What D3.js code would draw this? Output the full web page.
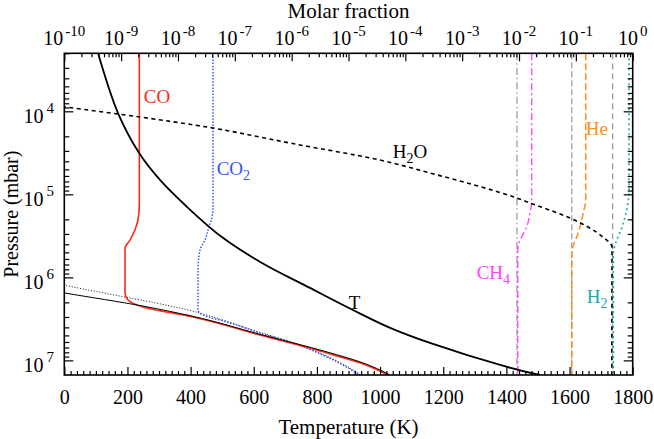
<!DOCTYPE html>
<html><head><meta charset="utf-8">
<script src="https://cdn.jsdelivr.net/npm/d3@7"></script>
<style>
body{margin:0;background:#fff}
text{font-family:"Liberation Serif","Times New Roman",serif;fill:#000}
</style>
</head><body>
<svg id="c" width="654" height="439"></svg>
<script>
// ---------------- data ----------------
const tempTicks = [0,200,400,600,800,1000,1200,1400,1600,1800];
const fracExps  = [-10,-9,-8,-7,-6,-5,-4,-3,-2,-1,0];
const presExps  = [4,5,6,7];

// Temperature profile (K vs mbar)
const tempK = [107,170,237,303,389,499,626,778,914,1032,1158,1402,1506];
const tempP = [2.0e3,1.05e4,3.18e4,6.71e4,1.42e5,3.27e5,6.71e5,1.34e6,2.47e6,4.06e6,6.17e6,1.20e7,1.5e7];

// Molar fractions
const coX  = [2.09e-9,2.09e-9,2.06e-9,1.75e-9,1.43e-9,1.17e-9,1.17e-9,1.32e-9,2.43e-9,1.84e-8,2.77e-7,4.18e-6,1.59e-5,4.94e-5];
const coP  = [2.0e3,1.17e5,1.67e5,2.69e5,3.55e5,4.43e5,1.54e6,1.87e6,2.27e6,3.00e6,4.94e6,8.15e6,1.07e7,1.5e7];
const coEqX = [5e-11,1e-10,2.43e-9,1.84e-8,2.77e-7,4.3e-6,1.65e-5,5.2e-5];
const coEqP = [1.42e6,1.54e6,2.22e6,2.95e6,4.85e6,7.95e6,1.05e7,1.48e7];

const co2X = [4.13e-8,4.13e-8,3.97e-8,3.38e-8,2.99e-8,2.44e-8,2.25e-8,2.25e-8,2.75e-8,7.29e-8,2.77e-7,1.06e-6,4.18e-6,1.59e-5];
const co2P = [2.0e3,1.42e5,1.87e5,2.69e5,3.55e5,4.68e5,8.15e5,2.47e6,2.84e6,3.45e6,4.68e6,6.18e6,9.1e6,1.5e7];
const co2EqX = [5e-11,1e-10,2.44e-8,7.29e-8,2.77e-7,1.06e-6,4.18e-6,1.59e-5];
const co2EqP = [1.12e6,1.24e6,2.69e6,3.38e6,4.6e6,6.1e6,8.9e6,1.46e7];

const h2oX = [5e-11,1e-10,2.15e-9,4.13e-8,2.77e-7,9.35e-7,3.58e-5,2.72e-4,9.2e-3,1.56e-2,7.88e-2,0.30,0.432,0.428];
const h2oP = [8.2e3,8.8e3,1.17e4,1.59e4,2.04e4,2.41e4,3.86e4,5.53e4,1.11e5,1.27e5,1.93e5,3.27e5,4.31e5,1.5e7];

const ch4X = [1.67e-2,1.67e-2,1.56e-2,1.36e-2,1.11e-2,9.7e-3,9.5e-3,9.5e-3];
const ch4P = [2.0e3,1.17e5,1.67e5,2.47e5,3.27e5,4.08e5,4.68e5,1.5e7];

const heX = [0.149,0.149,0.135,0.118,0.1035,0.088,0.0846,0.0846];
const heP = [2.0e3,1.17e5,1.67e5,2.47e5,3.27e5,4.31e5,4.95e5,1.5e7];

const h2X = [0.861,0.861,0.838,0.733,0.623,0.523,0.474,0.456,0.456];
const h2P = [2.0e3,8.87e4,1.17e5,1.87e5,2.69e5,3.55e5,4.43e5,5.37e5,1.5e7];

// deep reference abundances (grey verticals)
const refX = [9.2e-3,0.085,0.445];
const refDash = ["7,3,1.5,3","6,3","6,4"];

// ---------------- layout ----------------
const FONT = '"Liberation Serif","Times New Roman",serif';
const M = {left:64.3,right:632.7,top:53.3,bottom:375};
const svg = d3.select("#c");
const x = d3.scaleLinear().domain([0,1800]).range([M.left,M.right]);
const xf = d3.scaleLog().domain([1e-10,1]).range([M.left,M.right]);
const y = d3.scaleLog().domain([2000,1.5e7]).range([M.top,M.bottom]);

svg.append("defs").append("clipPath").attr("id","clip")
  .append("rect").attr("x",M.left).attr("y",M.top)
  .attr("width",M.right-M.left).attr("height",M.bottom-M.top);

const plot = svg.append("g").attr("clip-path","url(#clip)");
const zip = (a,b)=>a.map((v,i)=>[v,b[i]]);
const lineF = d3.line().x(d=>xf(d[0])).y(d=>y(d[1])).curve(d3.curveMonotoneY);
const lineT = d3.line().x(d=>x(d[0])).y(d=>y(d[1])).curve(d3.curveCatmullRom.alpha(0.5));

function draw(gen, data, color, w, dash){
  plot.append("path").attr("d",gen(data)).attr("fill","none")
    .attr("stroke",color).attr("stroke-width",w)
    .attr("stroke-dasharray",dash||null);
}

// grey reference lines
refX.forEach((v,i)=>{
  plot.append("line").attr("x1",xf(v)).attr("x2",xf(v))
    .attr("y1",M.top).attr("y2",M.bottom)
    .attr("stroke","#808080").attr("stroke-width",1)
    .attr("stroke-dasharray",refDash[i]);
});

const cCO="#ff2a12", cCO2="#3355ff", cCH4="#ff44ff", cHe="#f7901e", cH2="#1aabab";

draw(lineF, zip(co2EqX,co2EqP), "#000", 0.9, "1,1.8");
draw(lineF, zip(co2X,co2P), cCO2, 1.5, "1.5,1.6");
draw(lineF, zip(coX,coP), cCO, 1.6);
draw(lineF, zip(coEqX,coEqP), "#000", 1.0);
draw(lineF, zip(ch4X,ch4P), cCH4, 1.4, "7,3,2,3");
draw(lineF, zip(heX,heP), cHe, 1.5, "7,3");
draw(lineF, zip(h2oX,h2oP), "#000", 1.6, "4,3.5");
draw(lineF, zip(h2X,h2P), cH2, 1.6, "2,3");
draw(lineT, zip(tempK,tempP), "#000", 1.8);

// ---------------- axes ----------------
const axFont = 20, supFont = 15;
// bottom
const minorT = d3.range(0,1801,20).filter(v=>v%200!==0);
svg.append("g").attr("transform",`translate(0,${M.bottom})`)
  .call(d3.axisBottom(x).tickValues(minorT).tickSize(-4).tickFormat(""))
  .call(g=>g.select(".domain").remove());
svg.append("g").attr("transform",`translate(0,${M.bottom})`)
  .call(d3.axisBottom(x).tickValues(tempTicks).tickSize(-8).tickPadding(15).tickFormat(d3.format("d")))
  .call(g=>g.select(".domain").remove())
  .call(g=>g.selectAll("text").attr("font-size",axFont));

// top (log molar fraction)
const minorF = [];
fracExps.slice(0,-1).forEach(e=>{for(let k=2;k<=9;k++) minorF.push(k*Math.pow(10,e));});
const majorF = fracExps.map(e=>Math.pow(10,e));
svg.append("g").attr("transform",`translate(0,${M.top})`)
  .call(d3.axisTop(xf).tickValues(minorF).tickSize(-4).tickFormat(""))
  .call(g=>g.select(".domain").remove());
svg.append("g").attr("transform",`translate(0,${M.top})`)
  .call(d3.axisTop(xf).tickValues(majorF).tickSize(-8).tickFormat(""))
  .call(g=>g.select(".domain").remove());
fracExps.forEach(e=>{
  const t = svg.append("text").attr("x",xf(Math.pow(10,e))).attr("y",45)
    .attr("text-anchor","middle").attr("font-size",axFont);
  t.append("tspan").text("10");
  t.append("tspan").attr("dx",2).attr("dy",-9).attr("font-size",supFont).text(e===0?"0":"-"+(-e));
});

// left/right (log pressure)
const minorP = [];
[3,4,5,6,7].forEach(e=>{for(let k=2;k<=9;k++){const v=k*Math.pow(10,e); if(v>=2000&&v<=1.5e7) minorP.push(v);}});
const majorP = presExps.map(e=>Math.pow(10,e));
[[d3.axisLeft,M.left],[d3.axisRight,M.right]].forEach(([ax,pos])=>{
  svg.append("g").attr("transform",`translate(${pos},0)`)
    .call(ax(y).tickValues(minorP).tickSize(-5).tickFormat(""))
    .call(g=>g.select(".domain").remove());
  svg.append("g").attr("transform",`translate(${pos},0)`)
    .call(ax(y).tickValues(majorP).tickSize(-9).tickFormat(""))
    .call(g=>g.select(".domain").remove());
});
presExps.forEach(e=>{
  const t = svg.append("text").attr("x",54).attr("y",y(Math.pow(10,e))+12)
    .attr("text-anchor","end").attr("font-size",axFont);
  t.append("tspan").text("10");
  t.append("tspan").attr("dx",3).attr("dy",-10).attr("font-size",supFont).text(String(e));
});
svg.selectAll(".tick line").attr("stroke","#000").attr("stroke-width",1.2);

// frame
svg.append("rect").attr("x",M.left).attr("y",M.top)
  .attr("width",M.right-M.left).attr("height",M.bottom-M.top)
  .attr("fill","none").attr("stroke","#000").attr("stroke-width",1.6);

// titles
svg.append("text").attr("x",(M.left+M.right)/2).attr("y",434)
  .attr("text-anchor","middle").attr("font-size",21).text("Temperature (K)");
svg.append("text").attr("x",(M.left+M.right)/2).attr("y",18)
  .attr("text-anchor","middle").attr("font-size",21).text("Molar fraction");
svg.append("text").attr("transform",`translate(18,${(M.top+M.bottom)/2}) rotate(-90)`)
  .attr("text-anchor","middle").attr("font-size",20).text("Pressure (mbar)");

// curve labels
function label(px,py,color,main,sub,tail){
  const t = svg.append("text").attr("x",px).attr("y",py).attr("font-size",19).style("fill",color);
  t.append("tspan").text(main);
  if(sub){
    t.append("tspan").attr("dy",5).attr("font-size",14).text(sub);
    if(tail) t.append("tspan").attr("dy",-5).text(tail);
  }
}
label(xf(2.5e-9), y(7.9e3), cCO, "CO");
label(xf(4.8e-8), y(5.9e4), cCO2, "CO","2");
label(x(1040), y(3.6e4), "#000", "H","2","O");
label(xf(0.150), y(1.93e4), cHe, "He");
label(xf(1.8e-3), y(1.05e6), cCH4, "CH","4");
label(xf(0.155), y(2.05e6), cH2, "H","2");
label(x(901), y(2.4e6), "#000", "T");

svg.selectAll("text").attr("font-family",FONT);
</script>
</body></html>
